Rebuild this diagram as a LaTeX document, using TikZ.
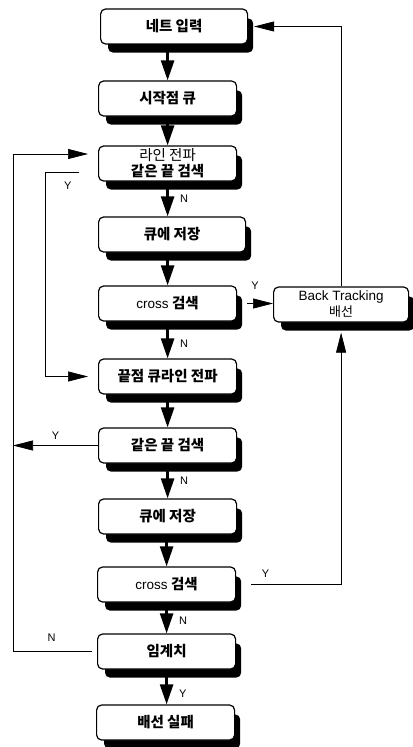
\documentclass[tikz,border=0pt]{standalone}
\usepackage{fontspec}
\setmainfont{Liberation Sans}
\newfontfamily\krfont{Noto Sans CJK KR}
\usetikzlibrary{arrows.meta,backgrounds}

\begin{document}
\begin{tikzpicture}[x=1bp, y=-1bp,
            process box/.style={draw, line width=1.2bp, rounded corners=5bp, fill=white,
                anchor=west, minimum width=138bp, minimum height=35bp, inner sep=1bp, align=center,
                font=\krfont\bfseries\fontsize{14.5bp}{16bp}\selectfont},
            box shadow/.style={fill=black, rounded corners=5bp},
            flow arrow/.style={line width=2.5bp, -{Triangle[length=20bp, width=13bp]}},
            branch line/.style={line width=0.7bp, -{Triangle[length=20bp, width=10bp]}},
            branch label/.style={font=\fontsize{11bp}{13bp}\selectfont}]

        \useasboundingbox (0,0) rectangle (412,747);

        \node[process box, minimum width=147bp] (net) at (100,26.5) {네트 입력};
        \node[process box] (start) at (98,98.5) {시작점 큐};
        \node[process box] (line) at (98,163.5) {{\mdseries 라인 전파}\\같은 끝 검색};
        \node[process box, minimum width=147bp] (save) at (98,234.5) {큐에 저장};
        \node[process box] (cross) at (98,303.5) {{\rmfamily\mdseries\fontsize{13.5bp}{15bp}\selectfont cross} 검색};
        \node[process box, minimum width=135bp] (back) at (273,304.5) {{\rmfamily\mdseries\fontsize{13.5bp}{15bp}\selectfont Back Tracking}\\{\mdseries\fontsize{13bp}{15bp}\selectfont 배선}};
        \node[process box] (prop) at (98,376.5) {끝점 큐라인 전파};
        \node[process box] (same) at (98,445.5) {같은 끝 검색};
        \node[process box] (save2) at (98,516.5) {큐에 저장};
        \node[process box] (cross2) at (97,584.5) {{\rmfamily\mdseries\fontsize{13.5bp}{15bp}\selectfont cross} 검색};
        \node[process box] (limit) at (97,651.5) {임계치};
        \node[process box] (fail) at (96,722.5) {배선 실패};

        \begin{scope}[on background layer]
            \foreach \n in {net,start,line,save,cross,back,prop,same,save2,cross2,limit,fail}
                \fill[box shadow] ([xshift=8bp, yshift=-10bp]\n.north west) rectangle ([xshift=5bp, yshift=-8bp]\n.south east);
        \end{scope}

        \coordinate (loopL) at (13,154);
        \coordinate (loopI) at (45,172);

        \draw[flow arrow] (start.north |- net.south) -- (start.north);
        \draw[flow arrow] (line.north |- start.south) -- (line.north);
        \draw[flow arrow] (line.south) -- (line.south |- save.north) node[branch label, midway, right=8bp]{N};
        \draw[flow arrow] (cross.north |- save.south) -- (cross.north);
        \draw[flow arrow] (cross.south) -- (cross.south |- prop.north) node[branch label, pos=0.6, right=8bp]{N};
        \draw[flow arrow] (same.north |- prop.south) -- (same.north);
        \draw[flow arrow] (same.south) -- (same.south |- save2.north) node[branch label, midway, right=8bp]{N};
        \draw[flow arrow] (cross2.north |- save2.south) -- (cross2.north);
        \draw[flow arrow] (cross2.south) -- (cross2.south |- limit.north) node[branch label, pos=0.6, right=8bp]{N};
        \draw[flow arrow] (limit.south) -- (limit.south |- fail.north) node[branch label, pos=0.7, right=8bp]{Y};

        \draw[branch line, shorten >=6bp] (back.north) |- (net.east);
        \draw[branch line, shorten <=10bp] (cross.east) -- (cross.east -| back.west) node[branch label, midway, above=10bp]{Y};
        \draw[branch line, shorten <=15bp, shorten >=10bp] (cross2.east) -| node[branch label, pos=0.14, above=3bp]{Y} (back.south);
        \draw[branch line] (same.west) -- (same.west -| loopL) node[branch label, midway, above=2bp]{Y};
        \draw[branch line, shorten <=5bp, shorten >=10bp] (limit.west) -| node[branch label, pos=0.27, above=6bp]{N} (loopL) -- (loopL -| line.west);
        \draw[branch line, shorten <=19bp, shorten >=10bp] (line.west |- loopI) -- (loopI) node[branch label, pos=0.57, below=6bp]{Y} |- (prop.west);
    \end{tikzpicture}
\end{document}
